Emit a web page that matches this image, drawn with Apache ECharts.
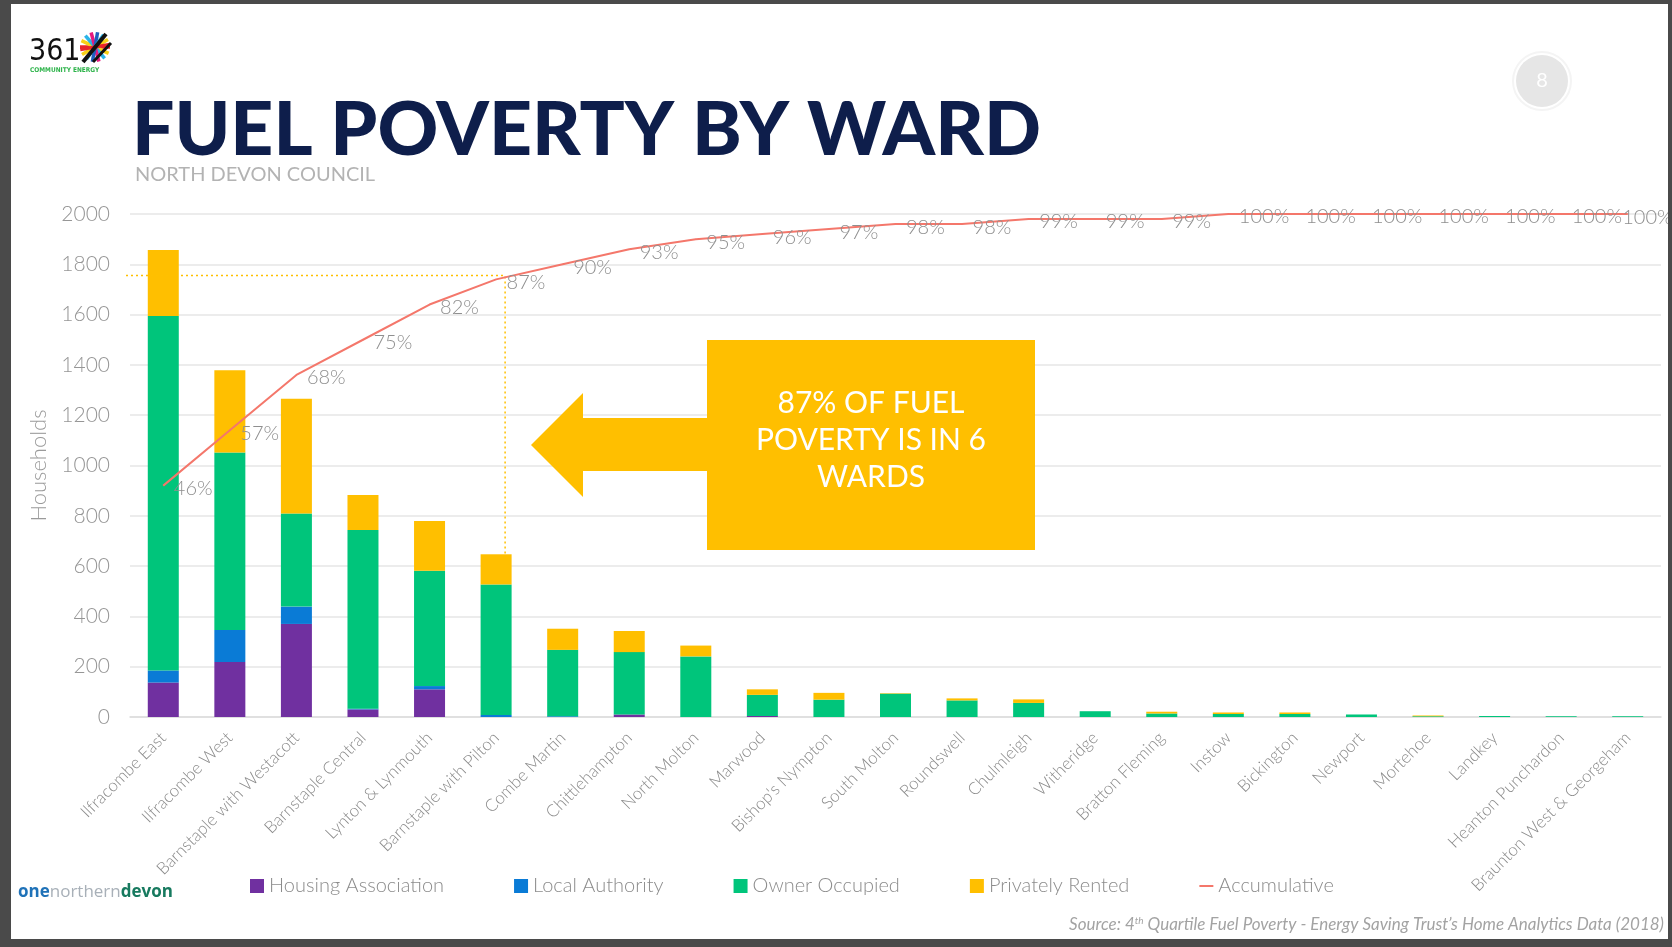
<!DOCTYPE html>
<html><head><meta charset="utf-8">
<script src="https://cdn.jsdelivr.net/npm/echarts@6/dist/echarts.min.js"></script>
<style>html,body{margin:0;padding:0;background:#fff;} #c{width:1672px;height:947px;}</style>
</head><body><div id="c"></div>
<script>
const categories = ['Ilfracombe East','Ilfracombe West','Barnstaple with Westacott','Barnstaple Central','Lynton & Lynmouth','Barnstaple with Pilton','Combe Martin','Chittlehampton','North Molton','Marwood',"Bishop's Nympton",'South Molton','Roundswell','Chulmleigh','Witheridge','Bratton Fleming','Instow','Bickington','Newport','Mortehoe','Landkey','Heanton Punchardon','Braunton West & Georgeham'];
const housingAssociation = [137,219,370,30,110,0,0,10,0,4,0,0,0,0,0,0,0,0,0,0,0,0,0];
const localAuthority     = [48,127,69,3,13,8,3,0,0,0,0,0,0,0,0,0,0,0,0,0,0,0,0];
const ownerOccupied      = [1409,706,370,711,459,519,264,248,241,84,69,93,66,56,23,14,12,12,10,3,4,3,3];
const privatelyRented    = [263,327,456,139,197,120,84,84,43,22,27,2,8,14,0,7,6,6,0,3,0,0,0];
const accumulative       = [46,57,68,75,82,87,90,93,95,96,97,98,98,99,99,99,100,100,100,100,100,100,100];
const yTicks = {min:0, max:2000, interval:200};
const guideValue = 1755;   // dotted guide level
const guideIndex = 5;      // 6th ward

const FONT = 'Lato';
const colors = {ha:'#7030a0', la:'#0a7bd6', oo:'#00c57b', pr:'#ffbf00', acc:'#f4776b'};
const chart = echarts.init(document.getElementById('c'));

function barSeries(name, data, color){
  return {name, type:'bar', stack:'t', data, barWidth:31, itemStyle:{color}, emphasis:{disabled:true}};
}
// last label is pulled back inside the plot, as in the original
const accData = accumulative.map((v, i) => i === accumulative.length - 1
  ? {value:v, label:{offset:[-16, 4]}} : v);

const option = {
  animation:false,
  textStyle:{fontFamily:FONT},
  grid:{left:130, right:11, top:214, bottom:230},
  legend:{
    left:245, top:871, itemWidth:14, itemHeight:14, itemGap:70,
    textStyle:{fontSize:20, color:'#8c8c8c', fontFamily:FONT, fontWeight:300},
    data:[
      {name:'Housing Association', icon:'rect'},
      {name:'Local Authority', icon:'rect'},
      {name:'Owner Occupied', icon:'rect'},
      {name:'Privately Rented', icon:'rect'},
      {name:'Accumulative', icon:'path://M0,0L14,0L14,2L0,2Z', itemStyle:{color:'#f4776b', opacity:1}}
    ]
  },
  xAxis:{
    type:'category', data:categories,
    axisLine:{lineStyle:{color:'#dcdcdc', width:1.5}},
    axisTick:{show:false},
    axisLabel:{rotate:45, interval:0, fontSize:17, color:'#8a8a8a', margin:18, fontFamily:FONT, fontWeight:300}
  },
  yAxis:[{
    type:'value', min:yTicks.min, max:yTicks.max, interval:yTicks.interval,
    axisLine:{show:false}, axisTick:{show:false},
    splitLine:{lineStyle:{color:'#ececec', width:2}},
    axisLabel:{fontSize:21, color:'#969696', margin:20, fontFamily:FONT, fontWeight:300, formatter:v=>String(v)},
    name:'Households', nameLocation:'middle', nameGap:80,
    nameTextStyle:{fontSize:22, color:'#9a9a9a', fontFamily:FONT, fontWeight:300}
  },{
    type:'value', min:0, max:100, show:false
  }],
  series:[
    barSeries('Housing Association', housingAssociation, colors.ha),
    barSeries('Local Authority', localAuthority, colors.la),
    barSeries('Owner Occupied', ownerOccupied, colors.oo),
    barSeries('Privately Rented', privatelyRented, colors.pr),
    {
      name:'Accumulative', type:'line', yAxisIndex:1, data:accData,
      symbol:'circle', symbolSize:1, showSymbol:true, showAllSymbol:true,
      lineStyle:{color:colors.acc, width:2}, itemStyle:{color:colors.acc},
      emphasis:{disabled:true}, z:5,
      label:{show:true, position:'right', distance:10, offset:[0,3], formatter:'{c}%', opacity:1,
        fontSize:20, color:'#8f8f8f', fontFamily:FONT, fontWeight:300}
    }
  ]
};
chart.setOption(option);

// annotation graphics
const p0 = chart.convertToPixel({xAxisIndex:0, yAxisIndex:0}, [guideIndex, guideValue]);
const pBar = chart.convertToPixel({xAxisIndex:0, yAxisIndex:0}, [guideIndex,
  housingAssociation[guideIndex]+localAuthority[guideIndex]+ownerOccupied[guideIndex]+privatelyRented[guideIndex]]);
const gx = p0[0] + 9;
const dotted = {stroke:'#ffc000', lineWidth:1.5, lineDash:[2,3]};

const star = [];
const starC = [95,47];
const rays = [[0,'#e8262b'],[25,'#f7d117'],[50,'#2bb4e8'],[75,'#e5197e'],[100,'#1f5fbf'],[125,'#2bb4e8'],[150,'#f7d117'],[170,'#e8262b']];
rays.forEach(([a,c])=>{
  const r = a*Math.PI/180, L=15;
  star.push({type:'line', shape:{x1:starC[0]-L*Math.cos(r), y1:starC[1]-L*Math.sin(r), x2:starC[0]+L*Math.cos(r), y2:starC[1]+L*Math.sin(r)}, style:{stroke:c, lineWidth:3.5}});
});
star.push({type:'line', shape:{x1:83,y1:62,x2:106,y2:34}, style:{stroke:'#111', lineWidth:4}});
star.push({type:'line', shape:{x1:93,y1:62,x2:111,y2:43}, style:{stroke:'#111', lineWidth:3}});

chart.setOption({graphic:[
  // frame
  {type:'rect', shape:{x:0,y:0,width:11,height:947}, style:{fill:'#4a4a4a'}, z:100},
  {type:'rect', shape:{x:0,y:0,width:1672,height:4}, style:{fill:'#4a4a4a'}, z:100},
  {type:'rect', shape:{x:1668,y:0,width:4,height:947}, style:{fill:'#4a4a4a'}, z:100},
  {type:'rect', shape:{x:0,y:939,width:1672,height:8}, style:{fill:'#4a4a4a'}, z:100},
  // logo
  {type:'text', x:29, y:52, style:{text:'361', fontSize:30, fontFamily:'DejaVu Sans Condensed', fill:'#111', verticalAlign:'middle'}},
  ...star,
  {type:'text', x:30, y:70, style:{text:'COMMUNITY ENERGY', fontSize:6.5, fontWeight:'bold', fontFamily:'DejaVu Sans Condensed', fill:'#2db34a', verticalAlign:'middle'}},
  // title
  {type:'text', x:132, y:131, style:{text:'FUEL POVERTY BY WARD', fontSize:75, fontWeight:900, fontFamily:FONT, fill:'#0e1e4b', verticalAlign:'middle'}},
  {type:'text', x:135, y:175, style:{text:'NORTH DEVON COUNCIL', fontSize:20, fontFamily:FONT, fill:'#b3b3b3', verticalAlign:'middle'}},
  // page number
  {type:'circle', shape:{cx:1542, cy:81, r:29}, style:{fill:'none', stroke:'#f4f4f4', lineWidth:2}},
  {type:'circle', shape:{cx:1542, cy:81, r:26}, style:{fill:'#e6e6e6'}},
  {type:'text', x:1542, y:81, style:{text:'8', fontSize:20, fontFamily:FONT, fill:'#ffffff', align:'center', verticalAlign:'middle'}},
  // guides
  {type:'polyline', shape:{points:[[126, p0[1]],[gx, p0[1]],[gx, pBar[1]]]}, style:dotted, z:5},
  // callout
  {type:'polygon', shape:{points:[[531,445],[583,393],[583,418],[708,418],[708,471],[583,471],[583,497]]}, style:{fill:'#ffbf00'}, z:6},
  {type:'rect', shape:{x:707,y:340,width:328,height:210}, style:{fill:'#ffbf00'}, z:6},
  {type:'text', x:871, y:440, z:7, style:{text:'87% OF FUEL\nPOVERTY IS IN 6\nWARDS', fontSize:30, lineHeight:37, fontFamily:FONT, fill:'#ffffff', align:'center', verticalAlign:'middle'}},
  // bottom logo
  {type:'text', x:18, y:892, style:{text:'{a|one}{b|northern}{c|devon}', verticalAlign:'middle',
    rich:{a:{fontSize:17, fontWeight:'bold', fill:'#1f72b8', fontFamily:'Open Sans'}, b:{fontSize:17, fill:'#a8b0b8', fontFamily:'Open Sans'}, c:{fontSize:17, fontWeight:'bold', fill:'#177a5f', fontFamily:'Open Sans'}}}},
  // source
  {type:'text', x:1664, y:925, style:{text:'{n|Source: 4}{s|th}{n| Quartile Fuel Poverty - Energy Saving Trust\u2019s Home Analytics Data (2018)}', align:'right', verticalAlign:'middle',
    rich:{n:{fontSize:17, fontStyle:'italic', fill:'#a3a3a3', fontFamily:FONT}, s:{fontSize:10, fontStyle:'italic', fill:'#a3a3a3', fontFamily:FONT, verticalAlign:'top', padding:[0,0,8,0]}}}}
]});
</script>
</body></html>
